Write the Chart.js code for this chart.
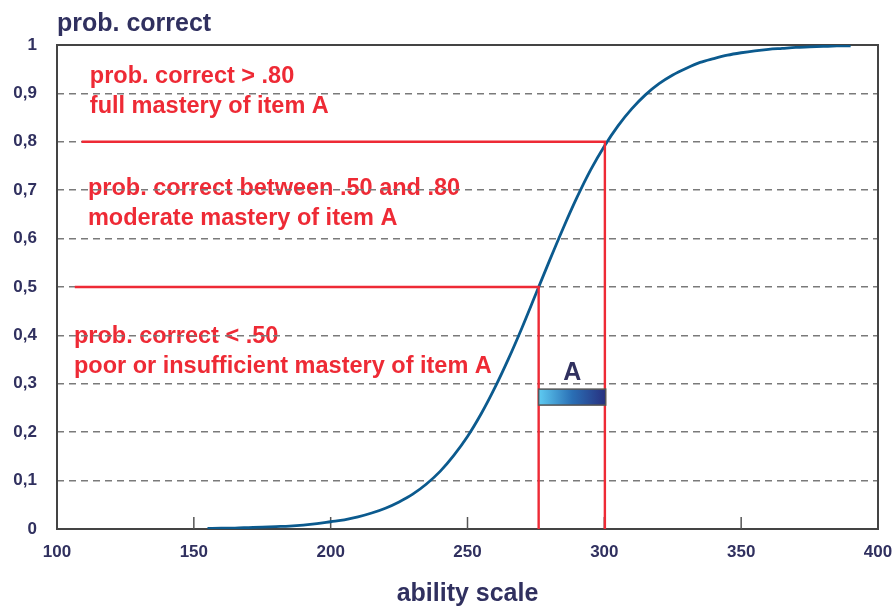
<!DOCTYPE html>
<html>
<head>
<meta charset="utf-8">
<script src="https://cdn.jsdelivr.net/npm/chart.js@4.4.1/dist/chart.umd.min.js"></script>
<style>
  html, body { margin: 0; padding: 0; background: #fff; }
  canvas { display: block; }
</style>
</head>
<body>
<canvas id="chart" width="896" height="606"></canvas>
<script>
// ability scale points and probability correct
const abilityValues = [155, 160, 165, 170, 175, 180, 185, 190, 195, 200, 205, 210, 215, 220, 225, 230, 235, 240, 245, 250, 255, 260, 265, 270, 275, 280, 285, 290, 295, 300, 305, 310, 315, 320, 325, 330, 335, 340, 345, 350, 355, 360, 365, 370, 375, 380, 385, 390];
const probValues = [0.001, 0.002, 0.002, 0.003, 0.004, 0.005, 0.006, 0.008, 0.011, 0.015, 0.019, 0.025, 0.033, 0.043, 0.056, 0.072, 0.093, 0.119, 0.152, 0.191, 0.238, 0.292, 0.352, 0.417, 0.486, 0.555, 0.622, 0.685, 0.742, 0.791, 0.833, 0.868, 0.897, 0.920, 0.938, 0.952, 0.964, 0.972, 0.979, 0.984, 0.988, 0.991, 0.993, 0.995, 0.996, 0.997, 0.998, 0.998];

// red threshold lines
const line80 = [{x: 109, y: 0.8}, {x: 300.2, y: 0.8}, {x: 300.2, y: -0.003}];
const line50 = [{x: 106.5, y: 0.5}, {x: 276, y: 0.5}, {x: 276, y: -0.003}];

// item A bar
const barAX = [276, 300.5];
const barAY = [0.256, 0.289];

const xTicks = [100, 150, 200, 250, 300, 350, 400];
const yTicks = [0, 0.1, 0.2, 0.3, 0.4, 0.5, 0.6, 0.7, 0.8, 0.9, 1];

const zoneLabels = [
  {x: 112, y: 0.935, lines: ['prob. correct > .80', 'full mastery of item A']},
  {x: 111.3, y: 0.703, lines: ['prob. correct between .50 and .80', 'moderate mastery of item A']},
  {x: 106.2, y: 0.398, lines: ['prob. correct < .50', 'poor or insufficient mastery of item A']}
];

const NAVY = '#30305f';
const RED = '#ee2a35';
const FONT = '"Liberation Sans", Arial, sans-serif';

const extras = {
  id: 'extras',
  beforeDraw(chart) {
    const {ctx, scales: {x, y}} = chart;
    ctx.save();
    ctx.fillStyle = '#fff';
    ctx.fillRect(0, 0, chart.width, chart.height);
    // zone descriptions, under the grid lines
    ctx.fillStyle = RED;
    ctx.font = 'bold 23.5px ' + FONT;
    ctx.textBaseline = 'middle';
    ctx.textAlign = 'left';
    zoneLabels.forEach(z => {
      const px = x.getPixelForValue(z.x);
      const py = y.getPixelForValue(z.y);
      z.lines.forEach((t, i) => ctx.fillText(t, px, py + i * 30));
    });
    // axis title on top
    ctx.fillStyle = NAVY;
    ctx.font = 'bold 25px ' + FONT;
    ctx.fillText('prob. correct', 57, 24);
    ctx.restore();
  },
  beforeDatasetsDraw(chart) {
    const {ctx, chartArea: a, scales: {x}} = chart;
    ctx.save();
    ctx.strokeStyle = '#444';
    ctx.lineWidth = 2;
    ctx.strokeRect(a.left, a.top, a.right - a.left, a.bottom - a.top);
    // inner tick marks on the x axis
    ctx.lineWidth = 1.5;
    ctx.strokeStyle = '#555';
    xTicks.slice(1, -1).forEach(v => {
      const px = x.getPixelForValue(v);
      ctx.beginPath();
      ctx.moveTo(px, a.bottom);
      ctx.lineTo(px, a.bottom - 12);
      ctx.stroke();
    });
    ctx.restore();
  },
  afterDatasetsDraw(chart) {
    const {ctx, scales: {x, y}} = chart;
    const x0 = x.getPixelForValue(barAX[0]);
    const x1 = x.getPixelForValue(barAX[1]);
    const y0 = y.getPixelForValue(barAY[1]);
    const y1 = y.getPixelForValue(barAY[0]);
    ctx.save();
    const g = ctx.createLinearGradient(x0, 0, x1, 0);
    g.addColorStop(0, '#5ecbf2');
    g.addColorStop(0.5, '#2a6fb5');
    g.addColorStop(1, '#28307f');
    ctx.fillStyle = g;
    ctx.fillRect(x0, y0, x1 - x0, y1 - y0);
    ctx.strokeStyle = '#555';
    ctx.lineWidth = 1.5;
    ctx.strokeRect(x0, y0, x1 - x0, y1 - y0);
    ctx.fillStyle = NAVY;
    ctx.font = 'bold 25px ' + FONT;
    ctx.textAlign = 'center';
    ctx.textBaseline = 'middle';
    ctx.fillText('A', (x0 + x1) / 2, y0 - 16);
    ctx.restore();
  }
};

new Chart(document.getElementById('chart'), {
  type: 'scatter',
  data: {
    datasets: [
      {
        data: line80,
        showLine: true,
        borderColor: RED,
        borderWidth: 2.4,
        pointRadius: 0,
        tension: 0
      },
      {
        data: line50,
        showLine: true,
        borderColor: RED,
        borderWidth: 2.4,
        pointRadius: 0,
        tension: 0
      },
      {
        data: abilityValues.map((v, i) => ({x: v, y: probValues[i]})),
        showLine: true,
        borderColor: '#0b5a8e',
        borderWidth: 2.8,
        pointRadius: 0,
        cubicInterpolationMode: 'monotone'
      }
    ]
  },
  options: {
    responsive: false,
    animation: false,
    layout: { padding: { top: 45, right: 18, left: 0, bottom: 0 } },
    plugins: { legend: { display: false }, tooltip: { enabled: false } },
    scales: {
      x: {
        type: 'linear',
        min: 100,
        max: 400,
        afterBuildTicks: s => { s.ticks = xTicks.map(v => ({value: v})); },
        afterFit: s => { s.height = 77; s.paddingLeft = 0; s.paddingRight = 0; },
        grid: { display: false, drawTicks: false },
        border: { display: false },
        ticks: {
          color: NAVY,
          font: { family: FONT, size: 17, weight: 'bold' },
          padding: 13,
          maxRotation: 0
        },
        title: {
          display: true,
          text: 'ability scale',
          color: NAVY,
          font: { family: FONT, size: 25, weight: 'bold' },
          padding: { top: 4, bottom: -3 }
        }
      },
      y: {
        min: 0,
        max: 1,
        afterBuildTicks: s => { s.ticks = yTicks.map(v => ({value: v})); },
        afterFit: s => { s.width = 57; },
        border: { display: false, dash: [7, 5] },
        grid: {
          drawTicks: false,
          color: c => (c.tick && (c.tick.value === 0 || c.tick.value === 1)) ? 'rgba(0,0,0,0)' : '#7a7a7a',
          lineWidth: 1.5
        },
        ticks: {
          color: NAVY,
          font: { family: FONT, size: 17, weight: 'bold' },
          padding: 20,
          callback: v => String(v).replace('.', ',')
        }
      }
    }
  },
  plugins: [extras]
});
</script>
</body>
</html>
